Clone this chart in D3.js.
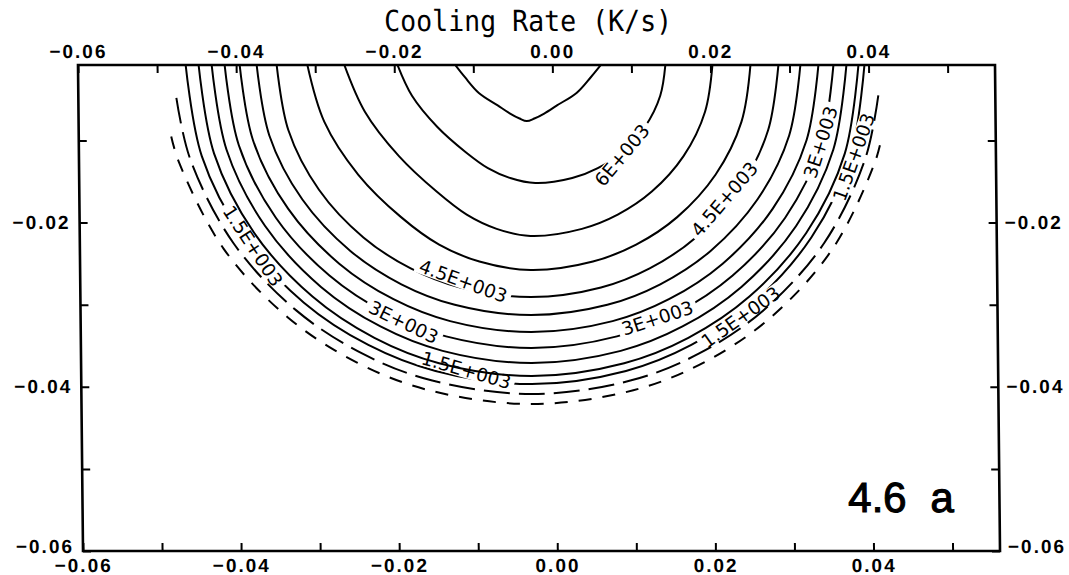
<!DOCTYPE html>
<html>
<head>
<meta charset="utf-8">
<script src="https://cdn.jsdelivr.net/npm/d3@7"></script>
<style>
  html, body { margin: 0; padding: 0; background: #fff; }
  svg { display: block; }
</style>
</head>
<body>
<div id="chart"></div>
<script>
// axis values
const xDomain = [-0.06, 0.056];
const yDomain = [-0.06, -0.0008];
const xTickValues = [-0.06, -0.05, -0.04, -0.03, -0.02, -0.01, 0, 0.01, 0.02, 0.03, 0.04, 0.05];
const xLabelValues = [-0.06, -0.04, -0.02, 0, 0.02, 0.04];
const yTickValues = [-0.06, -0.05, -0.04, -0.03, -0.02, -0.01];
const yLabelValues = [-0.06, -0.04, -0.02];

const titleText = "Cooling Rate (K/s)";
const panelText = "4.6 a";

// contour lines, [x, y]
const contour6500 = [[-0.0129, 0], [-0.01107, -0.00229], [-0.00933, -0.0042], [-0.00696, -0.00572], [-0.0054, -0.00671], [-0.00421, -0.00732], [-0.0033, -0.00763], [-0.00234, -0.00732], [-0.00109, -0.00671], [0.00054, -0.00572], [0.00303, -0.0042], [0.00485, -0.00229], [0.0068, 0]];
const contour6000 = [[-0.0199, 0], [-0.01779, -0.00455], [-0.01462, -0.00835], [-0.0111, -0.01139], [-0.00828, -0.01336], [-0.00547, -0.01457], [-0.0023, -0.01518], [0.00237, -0.01457], [0.00562, -0.01336], [0.00873, -0.01139], [0.01163, -0.00835], [0.01361, -0.00455], [0.01438, 0]];
const contour5500 = [[-0.0266, 0], [-0.02377, -0.00649], [-0.01952, -0.0119], [-0.0148, -0.01622], [-0.01102, -0.01903], [-0.00725, -0.02076], [-0.003, -0.02163], [0.00353, -0.02076], [0.00808, -0.01903], [0.01242, -0.01622], [0.01648, -0.0119], [0.01926, -0.00649], [0.02033, 0]];
const contour5000 = [[-0.03116, 0], [-0.02891, -0.00773], [-0.02468, -0.01417], [-0.01933, -0.01933], [-0.01455, -0.02268], [-0.00948, -0.02474], [-0.003, -0.02577], [0.00488, -0.02474], [0.01037, -0.02268], [0.0156, -0.01933], [0.0205, -0.01417], [0.02385, -0.00773], [0.02514, 0]];
const contour4500 = [[-0.03495, 0], [-0.03348, -0.00872], [-0.02968, -0.01599], [-0.02412, -0.0218], [-0.01818, -0.02558], [-0.01195, -0.02791], [-0.003, -0.02907], [0.00587, -0.02791], [0.01205, -0.02558], [0.01794, -0.0218], [0.02345, -0.01599], [0.02722, -0.00872], [0.02868, 0]];
const contour4000 = [[-0.03748, 0], [-0.03589, -0.00938], [-0.03179, -0.01719], [-0.02579, -0.02345], [-0.01938, -0.02751], [-0.01265, -0.03001], [-0.003, -0.03126], [0.00665, -0.03001], [0.01337, -0.02751], [0.01978, -0.02345], [0.02577, -0.01719], [0.02987, -0.00938], [0.03146, 0]];
const contour3500 = [[-0.03963, 0], [-0.03795, -0.01], [-0.03359, -0.01833], [-0.02721, -0.025], [-0.0204, -0.02933], [-0.01326, -0.032], [-0.003, -0.03333], [0.00729, -0.032], [0.01445, -0.02933], [0.02129, -0.025], [0.02768, -0.01833], [0.03205, -0.01], [0.03374, 0]];
const contour3000 = [[-0.04153, 0], [-0.03976, -0.01058], [-0.03517, -0.0194], [-0.02847, -0.02645], [-0.0213, -0.03104], [-0.01379, -0.03386], [-0.003, -0.03527], [0.00782, -0.03386], [0.01535, -0.03104], [0.02254, -0.02645], [0.02926, -0.0194], [0.03386, -0.01058], [0.03564, 0]];
const contour2500 = [[-0.04317, 0], [-0.04132, -0.01113], [-0.03654, -0.02041], [-0.02955, -0.02783], [-0.02208, -0.03265], [-0.01425, -0.03562], [-0.003, -0.0371], [0.00828, -0.03562], [0.01613, -0.03265], [0.02363, -0.02783], [0.03063, -0.02041], [0.03543, -0.01113], [0.03728, 0]];
const contour2000 = [[-0.04482, 0], [-0.0429, -0.0116], [-0.03792, -0.02127], [-0.03064, -0.02901], [-0.02286, -0.03404], [-0.01471, -0.03713], [-0.003, -0.03868], [0.0087, -0.03713], [0.01685, -0.03404], [0.02463, -0.02901], [0.0319, -0.02127], [0.03688, -0.0116], [0.0388, 0]];
const contour1500 = [[-0.04646, 0], [-0.04446, -0.0119], [-0.03929, -0.02181], [-0.03173, -0.02975], [-0.02364, -0.0349], [-0.01517, -0.03807], [-0.003, -0.03966], [0.00892, -0.03807], [0.01722, -0.0349], [0.02513, -0.02975], [0.03254, -0.02181], [0.0376, -0.0119], [0.03956, 0]];
const contour1000 = [[-0.0476, -0.0048], [-0.04593, -0.01226], [-0.04058, -0.02248], [-0.03275, -0.03066], [-0.02438, -0.03597], [-0.0156, -0.03924], [-0.003, -0.04088], [0.00946, -0.03924], [0.01814, -0.03597], [0.02641, -0.03066], [0.03416, -0.02248], [0.03945, -0.01226], [0.0412, -0.0045]];
const contour500 = [[-0.0483, -0.0095], [-0.04736, -0.01263], [-0.04183, -0.02316], [-0.03374, -0.03158], [-0.02509, -0.03705], [-0.01602, -0.04042], [-0.003, -0.0421], [0.00982, -0.04042], [0.01875, -0.03705], [0.02727, -0.03158], [0.03524, -0.02316], [0.04069, -0.01263], [0.0416, -0.0095]];

const contours = [
    { level: 6500, points: contour6500 },
    { level: 6000, points: contour6000 },
    { level: 5500, points: contour5500 },
    { level: 5000, points: contour5000 },
    { level: 4500, points: contour4500 },
    { level: 4000, points: contour4000 },
    { level: 3500, points: contour3500 },
    { level: 3000, points: contour3000 },
    { level: 2500, points: contour2500 },
    { level: 2000, points: contour2000 },
    { level: 1500, points: contour1500 },
    { level: 1000, points: contour1000 },
    { level: 500, points: contour500 }
];

// inline contour labels: where they sit and how they are turned
const contourLabels = [
    { level: 6000, text: "6E+003", x: 0.00869, y: -0.01177, angle: -50 },
    { level: 4500, text: "4.5E+003", x: -0.01155, y: -0.02711, angle: 20 },
    { level: 4500, text: "4.5E+003", x: 0.02159, y: -0.01713, angle: -49 },
    { level: 3000, text: "3E+003", x: -0.01914, y: -0.03211, angle: 26 },
    { level: 3000, text: "3E+003", x: 0.01296, y: -0.03162, angle: -18 },
    { level: 3000, text: "3E+003", x: 0.03384, y: -0.01019, angle: -72 },
    { level: 1500, text: "1.5E+003", x: 0.038, y: -0.01201, angle: -70 },
    { level: 1500, text: "1.5E+003", x: 0.0235, y: -0.0315, angle: -35 },
    { level: 1500, text: "1.5E+003", x: -0.01129, y: -0.03796, angle: 16 },
    { level: 1500, text: "1.5E+003", x: -0.0381, y: -0.02285, angle: 57 }
];

const width = 1069;
const height = 575;
const margin = { top: 65, right: 74, bottom: 24, left: 78 };
const plotW = width - margin.left - margin.right;
const plotH = height - margin.top - margin.bottom;

const svg = d3.select("#chart").append("svg")
    .attr("width", width)
    .attr("height", height);

// the scanned figure leans a little, so skew the whole panel
const g = svg.append("g")
    .attr("transform", `translate(${margin.left},${margin.top}) skewX(0.59)`);

const xScale = d3.scaleLinear().domain(xDomain).range([0, plotW]);
const yScale = d3.scaleLinear().domain(yDomain).range([plotH, 0]);

const fmt = d3.format(".2f");
const isLabel = (list, d) => list.some(v => Math.abs(v - d) < 1e-9);
const tickFont = "'Liberation Sans', Arial, sans-serif";

function styleAxis(sel) {
    sel.select(".domain").remove();
    sel.selectAll(".tick line").attr("stroke", "#000").attr("stroke-width", 2);
    sel.selectAll(".tick text")
        .attr("fill", "#000")
        .style("font-family", tickFont)
        .style("font-size", "19px")
        .style("font-weight", "bold")
        .style("letter-spacing", "2px");
}

g.append("g")
    .attr("transform", `translate(0,${plotH})`)
    .call(d3.axisBottom(xScale).tickValues(xTickValues).tickSizeInner(-8).tickSizeOuter(0).tickPadding(8)
        .tickFormat(d => isLabel(xLabelValues, d) ? fmt(d) : ""))
    .call(styleAxis);

g.append("g")
    .call(d3.axisTop(xScale).tickValues(xTickValues).tickSizeInner(-8).tickSizeOuter(0).tickPadding(7)
        .tickFormat(d => isLabel(xLabelValues, d) ? fmt(d) : ""))
    .call(styleAxis);

// the bottom y labels sit a little above the corner tick
const yLabelNudge = d => d <= -0.06 ? -5 : 0;

g.append("g")
    .call(d3.axisLeft(yScale).tickValues(yTickValues).tickSizeInner(-8).tickSizeOuter(0).tickPadding(9)
        .tickFormat(d => isLabel(yLabelValues, d) ? fmt(d) : ""))
    .call(styleAxis)
    .call(a => a.selectAll(".tick text").attr("y", yLabelNudge));

g.append("g")
    .attr("transform", `translate(${plotW},0)`)
    .call(d3.axisRight(yScale).tickValues(yTickValues).tickSizeInner(-8).tickSizeOuter(0).tickPadding(8)
        .tickFormat(d => isLabel(yLabelValues, d) ? fmt(d) : ""))
    .call(styleAxis)
    .call(a => a.selectAll(".tick text").attr("y", yLabelNudge));

// frame
g.append("rect")
    .attr("width", plotW)
    .attr("height", plotH)
    .attr("fill", "none")
    .attr("stroke", "#000")
    .attr("stroke-width", 2.6);

// title
g.append("text")
    .attr("x", plotW / 2 - 8)
    .attr("y", -34)
    .attr("text-anchor", "middle")
    .attr("textLength", 288)
    .attr("lengthAdjust", "spacingAndGlyphs")
    .style("font-family", "'DejaVu Sans Mono', monospace")
    .style("font-size", "29px")
    .text(titleText);

// contour labels: measure first so the line can be cut under them
const labelFont = "'DejaVu Sans', sans-serif";
const labelSize = 18.5;
contourLabels.forEach(d => {
    const t = svg.append("text").style("font-family", labelFont).style("font-size", labelSize + "px").text(d.text);
    d.len = t.node().getComputedTextLength();
    t.remove();
});

const defs = svg.append("defs");
defs.append("clipPath").attr("id", "plot-clip")
    .append("rect").attr("width", plotW).attr("height", plotH);

const labelsByLevel = d3.group(contourLabels, d => d.level);
labelsByLevel.forEach((labs, level) => {
    const m = defs.append("mask")
        .attr("id", `gap-${level}`)
        .attr("maskUnits", "userSpaceOnUse")
        .attr("x", -20).attr("y", -20)
        .attr("width", plotW + 40).attr("height", plotH + 40);
    m.append("rect")
        .attr("x", -20).attr("y", -20)
        .attr("width", plotW + 40).attr("height", plotH + 40)
        .attr("fill", "white");
    m.selectAll("rect.gap")
        .data(labs)
        .join("rect")
        .attr("class", "gap")
        .attr("x", d => -d.len / 2 - 4)
        .attr("y", -8)
        .attr("width", d => d.len + 8)
        .attr("height", 16)
        .attr("transform", d => `translate(${xScale(d.x)},${yScale(d.y)}) rotate(${d.angle})`)
        .attr("fill", "black");
});

const line = d3.line()
    .x(d => xScale(d[0]))
    .y(d => yScale(d[1]))
    .curve(d3.curveCatmullRom.alpha(0.5));

g.append("g")
    .attr("clip-path", "url(#plot-clip)")
    .selectAll("path")
    .data(contours)
    .join("path")
    .attr("d", d => line(d.points))
    .attr("fill", "none")
    .attr("stroke", "#000")
    .attr("stroke-width", 2)
    .attr("stroke-dasharray", d => d.level === 1000 ? "26,9" : d.level === 500 ? "13,11" : null)
    .attr("mask", d => labelsByLevel.has(d.level) ? `url(#gap-${d.level})` : null);

g.append("g")
    .selectAll("text")
    .data(contourLabels)
    .join("text")
    .attr("transform", d => `translate(${xScale(d.x)},${yScale(d.y)}) rotate(${d.angle})`)
    .attr("text-anchor", "middle")
    .attr("dy", "0.36em")
    .style("font-family", labelFont)
    .style("font-size", labelSize + "px")
    .text(d => d.text);

// panel tag
g.append("text")
    .attr("x", xScale(0.0502))
    .attr("y", yScale(-0.0553))
    .attr("text-anchor", "end")
    .attr("word-spacing", 12)
    .attr("stroke", "#000")
    .attr("stroke-width", 1.1)
    .style("font-family", tickFont)
    .style("font-size", "42px")
    .text(panelText);
</script>
</body>
</html>
